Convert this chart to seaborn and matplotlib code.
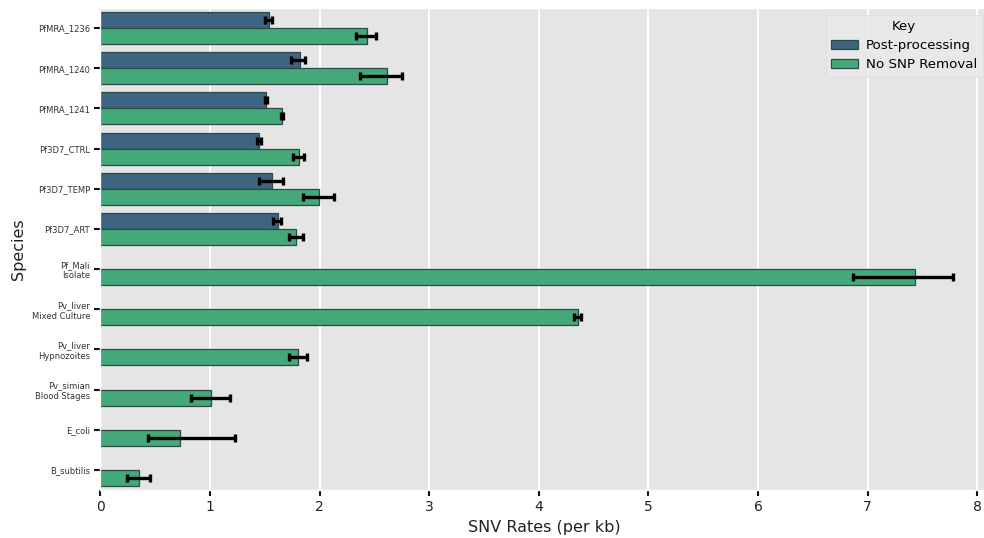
import numpy as np
import pandas as pd
import matplotlib
matplotlib.use("Agg")
import matplotlib.pyplot as plt
import seaborn as sns

# Samples, top to bottom
species = [
    "PfMRA_1236", "PfMRA_1240", "PfMRA_1241", "Pf3D7_CTRL", "Pf3D7_TEMP",
    "Pf3D7_ART", "Pf_Mali\nIsolate", "Pv_liver\nMixed Culture",
    "Pv_liver\nHypnozoites", "Pv_simian\nBlood Stages", "E_coli", "B_subtilis",
]
key_levels = ["Post-processing", "No SNP Removal"]

# Mean SNV rate (per kb) and its confidence interval, per processing mode
post_mean = [1.535, 1.817, 1.507, 1.446, 1.562, 1.617,
             np.nan, np.nan, np.nan, np.nan, np.nan, np.nan]
post_lo = [1.497, 1.735, 1.500, 1.431, 1.446, 1.577,
           np.nan, np.nan, np.nan, np.nan, np.nan, np.nan]
post_hi = [1.567, 1.868, 1.515, 1.462, 1.668, 1.644,
           np.nan, np.nan, np.nan, np.nan, np.nan, np.nan]

raw_mean = [2.43, 2.61, 1.653, 1.811, 1.991, 1.781,
            7.43, 4.354, 1.80, 1.005, 0.722, 0.348]
raw_lo = [2.33, 2.37, 1.644, 1.759, 1.848, 1.717,
          6.87, 4.32, 1.717, 0.826, 0.43, 0.242]
raw_hi = [2.51, 2.75, 1.668, 1.860, 2.133, 1.850,
          7.78, 4.385, 1.884, 1.184, 1.23, 0.452]

palette = {"Post-processing": "#3d6480", "No SNP Removal": "#45a878"}

rows = []
for i, sp in enumerate(species):
    for key, m, lo, hi in (("Post-processing", post_mean[i], post_lo[i], post_hi[i]),
                           ("No SNP Removal", raw_mean[i], raw_lo[i], raw_hi[i])):
        if not np.isnan(m):
            rows.append({"Species": sp, "Key": key, "rate": m, "lo": lo, "hi": hi})
df = pd.DataFrame(rows)

plt.style.use("ggplot")
plt.rcParams["font.family"] = ["DejaVu Sans"]

fig = plt.figure(figsize=(9.84, 5.38), dpi=100)
ax = fig.add_axes([0.1021, 0.0892, 0.9022, 0.8959])

sns.barplot(data=df, y="Species", x="rate", hue="Key", order=species,
            hue_order=key_levels, palette=palette, saturation=1,
            errorbar=None, width=0.8, edgecolor="#2e4a48", linewidth=0.9,
            ax=ax)

# Confidence intervals drawn on each bar's dodged slot
offsets = {"Post-processing": -0.2, "No SNP Removal": 0.2}
for _, r in df.iterrows():
    yv = species.index(r["Species"]) + offsets[r["Key"]]
    half = (r["hi"] - r["lo"]) / 2
    ax.errorbar(x=[(r["lo"] + r["hi"]) / 2], y=[yv], xerr=[[half], [half]],
                fmt="none", ecolor="black", elinewidth=2.4, capsize=3.2,
                capthick=2.4, zorder=5)

ax.set_xlim(0, 8.1)
ax.set_ylim(len(species) - 0.5, -0.5)
ax.set_xticks(range(0, 9))
ax.grid(axis="y", visible=False)
ax.grid(axis="x", color="white", linewidth=1.4)
ax.set_axisbelow(True)

ax.tick_params(axis="y", labelsize=6, colors="#111111", labelcolor="#333333",
               length=4, width=1.5, direction="out")
ax.tick_params(axis="x", labelsize=10, colors="#111111", labelcolor="#222222",
               length=4, width=1.5, direction="out")
for lbl in ax.get_yticklabels():
    lbl.set_multialignment("right")

ax.set_xlabel("SNV Rates (per kb)", fontsize=11.5, color="#222222")
ax.set_ylabel("Species", fontsize=11.5, color="#222222")

leg = ax.legend(title="Key", loc="upper left",
                bbox_to_anchor=(826 / 984, 1 - 15 / 538),
                bbox_transform=fig.transFigure, fontsize=9.6,
                title_fontsize=9.6, frameon=True, borderaxespad=0,
                handletextpad=0.6, labelspacing=0.45)
leg.get_frame().set_facecolor("#e9e9e9")
leg.get_frame().set_edgecolor("#dcdcdc")
leg.get_frame().set_alpha(0.9)

fig.savefig("out.png", dpi=100)
